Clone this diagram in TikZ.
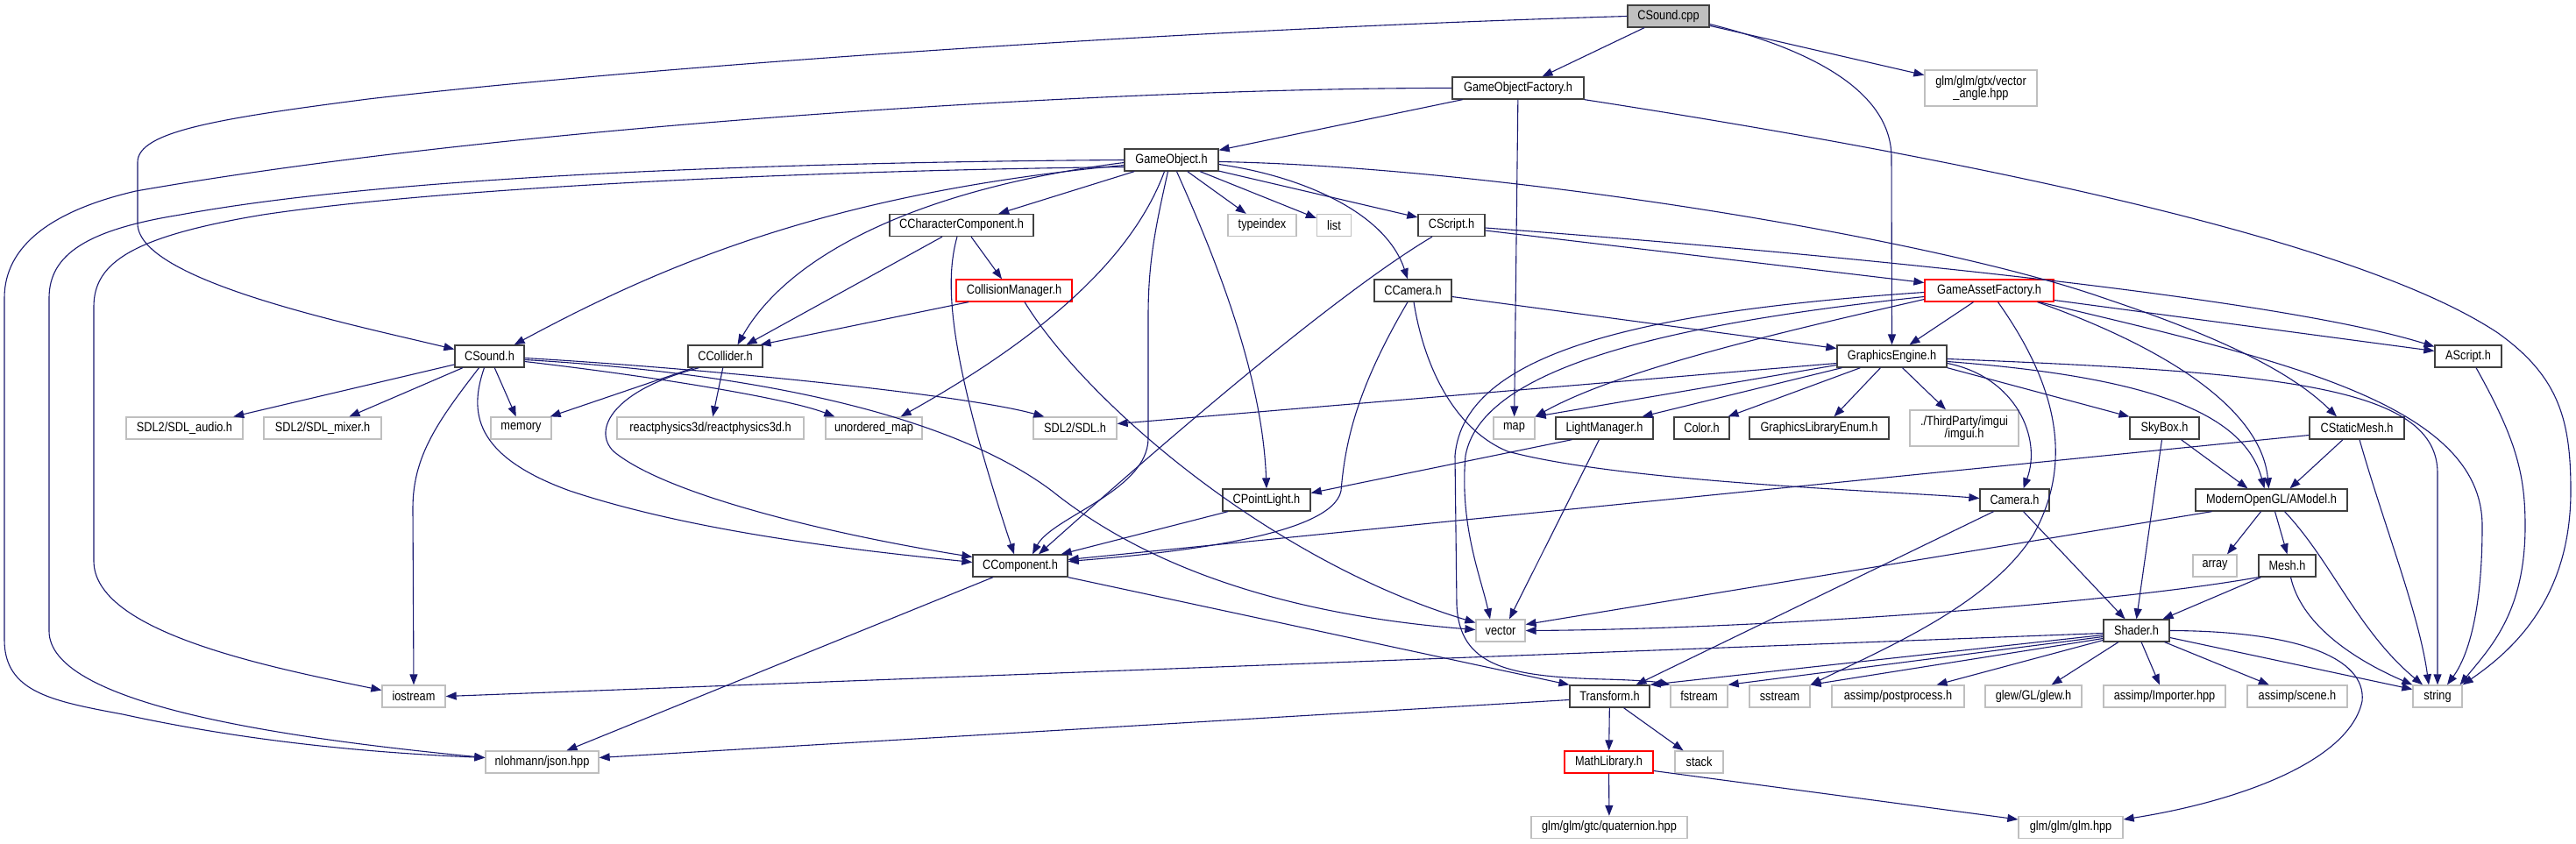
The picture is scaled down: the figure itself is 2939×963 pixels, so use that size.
\documentclass[tikz,border=0pt]{standalone}
\usepackage{fontspec}
\newfontfamily\depfamily{Liberation Sans}[FakeStretch=0.85]
\usepackage{tikz}
\usetikzlibrary{arrows.meta}
\definecolor{DepBlue}{HTML}{191970}
\definecolor{DepBorder}{HTML}{404040}
\definecolor{DepGray}{HTML}{BFBFBF}
\definecolor{DepRed}{HTML}{FF0000}
\newcommand{\depfont}{\depfamily\fontsize{15}{14}\selectfont}
\tikzset{
  depedge/.style={-{Triangle[length=12pt,width=9pt]},line width=1.1pt,draw=DepBlue},
  hfile/.style={draw=DepBorder,line width=1.3pt,fill=white,inner sep=0pt,minimum height=25pt,align=center,font=\depfont},
  sysfile/.style={hfile,draw=DepGray},
  badfile/.style={hfile,draw=DepRed},
  rootfile/.style={hfile,fill=DepGray}
}

\begin{document}
\begin{tikzpicture}[x=1pt,y=-1pt]
  \useasboundingbox[fill=white] (0,0) rectangle (2939,963);

  % files, row by row
  \node[rootfile,minimum width=93pt] (cpp) at (1903.5,18.5) {CSound.cpp};
  \node[hfile,minimum width=150pt] (gof) at (1732,100.5) {GameObjectFactory.h};
  \node[sysfile,minimum width=128pt,minimum height=41pt] (vang) at (2260,100.5) {glm/glm/gtx/vector\\\_angle.hpp};
  \node[hfile,minimum width=107pt] (go) at (1336.5,182.5) {GameObject.h};
  \node[hfile,minimum width=164pt] (cchar) at (1097,257) {CCharacterComponent.h};
  \node[sysfile,minimum width=78pt] (typeindex) at (1440,257) {typeindex};
  \node[sysfile,minimum width=39pt] (list) at (1522,257) {list};
  \node[hfile,minimum width=76pt] (cscript) at (1656,257) {CScript.h};
  \node[badfile,minimum width=132pt] (colmgr) at (1157,331.5) {CollisionManager.h};
  \node[hfile,minimum width=88pt] (ccamera) at (1612,331.5) {CCamera.h};
  \node[badfile,minimum width=147pt] (gaf) at (2269.5,331.5) {GameAssetFactory.h};
  \node[hfile,minimum width=79pt] (csoundh) at (558.5,406.5) {CSound.h};
  \node[hfile,minimum width=85pt] (ccollider) at (827.5,406.5) {CCollider.h};
  \node[hfile,minimum width=125pt] (gfx) at (2158.5,406.5) {GraphicsEngine.h};
  \node[hfile,minimum width=76pt] (ascript) at (2816,406.5) {AScript.h};
  \node[sysfile,minimum width=133pt] (sdlaudio) at (210.5,488.5) {SDL2/SDL\_audio.h};
  \node[sysfile,minimum width=134pt] (sdlmixer) at (368,488.5) {SDL2/SDL\_mixer.h};
  \node[sysfile,minimum width=69pt] (memory) at (594.5,488.5) {memory};
  \node[sysfile,minimum width=213pt] (react) at (810.5,488.5) {reactphysics3d/reactphysics3d.h};
  \node[sysfile,minimum width=110pt] (umap) at (997,488.5) {unordered\_map};
  \node[sysfile,minimum width=95pt] (sdl) at (1226.5,488.5) {SDL2/SDL.h};
  \node[sysfile,minimum width=47pt] (map) at (1727.5,488.5) {map};
  \node[hfile,minimum width=111pt] (lightmgr) at (1830.5,488.5) {LightManager.h};
  \node[hfile,minimum width=63pt] (color) at (1941.5,488.5) {Color.h};
  \node[hfile,minimum width=159pt] (gle) at (2075.5,488.5) {GraphicsLibraryEnum.h};
  \node[sysfile,minimum width=124pt,minimum height=41pt] (imgui) at (2241,488.5) {./ThirdParty/imgui\\/imgui.h};
  \node[hfile,minimum width=79pt] (skybox) at (2469.5,488.5) {SkyBox.h};
  \node[hfile,minimum width=108pt] (cstatic) at (2689,488.5) {CStaticMesh.h};
  \node[hfile,minimum width=100pt] (cpointlight) at (1445,570.5) {CPointLight.h};
  \node[hfile,minimum width=79pt] (camera) at (2298.5,570.5) {Camera.h};
  \node[hfile,minimum width=173pt] (amodel) at (2591.5,570.5) {ModernOpenGL/AModel.h};
  \node[hfile,minimum width=108pt] (ccomp) at (1164,645.5) {CComponent.h};
  \node[sysfile,minimum width=50pt] (array) at (2527,645.5) {array};
  \node[hfile,minimum width=65pt] (mesh) at (2609.5,645.5) {Mesh.h};
  \node[sysfile,minimum width=56pt] (vector) at (1712,719.5) {vector};
  \node[hfile,minimum width=75pt] (shader) at (2437.5,719.5) {Shader.h};
  \node[sysfile,minimum width=72pt] (iostream) at (472,794.5) {iostream};
  \node[hfile,minimum width=91pt] (transform) at (1836.5,794.5) {Transform.h};
  \node[sysfile,minimum width=65pt] (fstream) at (1938.5,794.5) {fstream};
  \node[sysfile,minimum width=69pt] (sstream) at (2030.5,794.5) {sstream};
  \node[sysfile,minimum width=151pt] (postproc) at (2165.5,794.5) {assimp/postprocess.h};
  \node[sysfile,minimum width=110pt] (glew) at (2320,794.5) {glew/GL/glew.h};
  \node[sysfile,minimum width=139pt] (importer) at (2469.5,794.5) {assimp/Importer.hpp};
  \node[sysfile,minimum width=114pt] (scene) at (2621,794.5) {assimp/scene.h};
  \node[sysfile,minimum width=56pt] (string) at (2781,794.5) {string};
  \node[sysfile,minimum width=129pt] (json) at (618.5,869.5) {nlohmann/json.hpp};
  \node[badfile,minimum width=101pt] (mathlib) at (1835.5,869.5) {MathLibrary.h};
  \node[sysfile,minimum width=55pt] (stack) at (1938.5,869.5) {stack};
  \node[sysfile,minimum width=178pt] (quat) at (1836,944) {glm/glm/gtc/quaternion.hpp};
  \node[sysfile,minimum width=119pt] (glmhpp) at (2362.5,944) {glm/glm/glm.hpp};

  % straight includes
  \foreach \a/\b in {cpp/gof,cpp/vang,gof/go,gof/map,go/cchar,go/typeindex,go/list,go/cscript,
      csoundh/sdlaudio,csoundh/sdlmixer,csoundh/memory,ccollider/react,
      shader/glew,shader/importer,shader/scene,transform/mathlib,mathlib/quat}
    \draw[depedge] (\a) -- (\b);

  % CSound.cpp
  \draw[depedge] (cpp.west) .. controls (1300,35) and (700,80) .. (420,113) .. controls (250,135) and (157,150) .. (157,185) -- (157,255) .. controls (157,320) and (400,370) .. ([yshift=8pt]csoundh.west);
  \draw[depedge] ([yshift=-9pt]cpp.east) .. controls (2080,60) and (2158,110) .. (2158,180) -- (gfx.north);

  % GameObjectFactory.h
  \draw[depedge] (gof.south east) .. controls (2300,190) and (2700,280) .. (2850,380) .. controls (2920,430) and (2933,480) .. (2933,560) .. controls (2933,680) and (2870,740) .. (string.north east);
  \draw[depedge] (gof.west) .. controls (1300,100) and (600,140) .. (155,218) .. controls (60,240) and (5,280) .. (5,340) -- (5,730) .. controls (5,790) and (60,800) .. (140,815) .. controls (300,850) and (450,860) .. ([yshift=5pt]json.west);

  % GameObject.h
  \draw[depedge] ([yshift=-6pt]go.west) .. controls (950,220) and (760,300) .. ([xshift=-12pt]csoundh.north east);
  \draw[depedge] ([yshift=-3pt]go.west) .. controls (1050,215) and (900,290) .. ([xshift=14pt]ccollider.north);
  \draw[depedge] (go.west) .. controls (900,185) and (450,200) .. (206,245) .. controls (100,262) and (56,290) .. (56,340) -- (56,720) .. controls (56,800) and (300,840) .. ([yshift=5pt]json.west);
  \draw[depedge] ([yshift=-8pt]go.west) .. controls (900,195) and (500,215) .. (300,245) .. controls (150,270) and (107,300) .. (107,350) -- (107,640) .. controls (107,720) and (300,760) .. ([yshift=7pt]iostream.west);
  \draw[depedge] ([xshift=-8pt]go.south) .. controls (1290,300) and (1180,390) .. ([xshift=-25pt]umap.north east);
  \draw[depedge] ([xshift=-4pt]go.south) .. controls (1318,260) and (1310,300) .. (1310,360) -- (1310,500) .. controls (1310,560) and (1200,590) .. ([xshift=14pt]ccomp.north);
  \draw[depedge] ([xshift=6pt]go.south) .. controls (1380,280) and (1440,420) .. (cpointlight.north);
  \draw[depedge] ([yshift=-5pt]go.east) .. controls (1480,200) and (1580,240) .. ([xshift=-6pt]ccamera.north);
  \draw[depedge] ([yshift=-2pt]go.east) .. controls (1700,190) and (2200,270) .. (2400,340) .. controls (2550,390) and (2620,430) .. ([xshift=-23pt]cstatic.north);

  % CSound.h
  \draw[depedge] ([xshift=-12pt]csoundh.south) .. controls (500,480) and (471,520) .. (471,580) -- (iostream.north);
  \draw[depedge] ([xshift=-6pt]csoundh.south) .. controls (535,470) and (540,520) .. (650,560) .. controls (800,610) and (1000,630) .. ([yshift=4pt]ccomp.west);
  \draw[depedge] ([yshift=-6pt]csoundh.east) .. controls (750,430) and (900,455) .. ([xshift=11pt]umap.north west);
  \draw[depedge] ([yshift=-2pt]csoundh.east) .. controls (800,420) and (1100,450) .. ([xshift=13pt]sdl.north west);
  \draw[depedge] ([yshift=-4pt]csoundh.east) .. controls (850,425) and (1080,470) .. (1200,560) .. controls (1300,640) and (1450,700) .. ([yshift=1pt]vector.west);

  % CCharacterComponent.h
  \draw[depedge] ([xshift=-22pt]cchar.south) -- ([xshift=24pt]ccollider.north);
  \draw[depedge] ([xshift=11pt]cchar.south) -- ([xshift=-14pt]colmgr.north);
  \draw[depedge] ([xshift=-5pt]cchar.south) .. controls (1078,320) and (1080,400) .. ([xshift=-7pt]ccomp.north);

  % CollisionManager.h
  \draw[depedge] ([xshift=-52pt]colmgr.south) -- ([xshift=40pt]ccollider.north);
  \draw[depedge] ([xshift=12pt]colmgr.south) .. controls (1240,460) and (1450,640) .. ([yshift=9pt]vector.west);

  % CCollider.h
  \draw[depedge] ([xshift=-36pt]ccollider.south) -- ([xshift=-2pt]memory.north east);
  \draw[depedge] ([xshift=-30pt]ccollider.south) .. controls (700,445) and (675,490) .. (700,515) .. controls (760,565) and (950,610) .. ([yshift=10pt]ccomp.west);

  % CScript.h
  \draw[depedge] ([xshift=-22pt]cscript.south) .. controls (1550,320) and (1400,440) .. ([xshift=21pt]ccomp.north);
  \draw[depedge] ([yshift=-6pt]cscript.east) -- ([yshift=9pt]gaf.west);
  \draw[depedge] ([yshift=-3pt]cscript.east) .. controls (2100,290) and (2600,340) .. ([yshift=11pt]ascript.west);

  % CCamera.h
  \draw[depedge] ([yshift=-7pt]ccamera.east) -- ([yshift=9pt]gfx.west);
  \draw[depedge] ([xshift=-6pt]ccamera.south) .. controls (1550,440) and (1535,500) .. (1530,560) .. controls (1520,610) and (1350,630) .. ([yshift=5pt]ccomp.east);
  \draw[depedge] ([xshift=1pt]ccamera.south) .. controls (1625,420) and (1660,490) .. (1720,515) .. controls (1850,550) and (2150,560) .. ([yshift=2pt]camera.west);

  % GameAssetFactory.h
  \draw[depedge] ([xshift=-18pt]gaf.south) -- ([xshift=20pt]gfx.north);
  \draw[depedge] ([yshift=-10pt]gaf.west) .. controls (2050,375) and (1850,420) .. (map.north east);
  \draw[depedge] ([yshift=-7pt]gaf.west) .. controls (1900,370) and (1690,420) .. (1672,520) .. controls (1665,600) and (1690,660) .. ([xshift=-12pt]vector.north);
  \draw[depedge] ([yshift=-2pt]gaf.west) .. controls (1880,355) and (1670,400) .. (1660,520) -- (1662,690) .. controls (1665,760) and (1720,772) .. (1830,775) .. controls (1870,776) and (1890,778) .. (fstream.north west);
  \draw[depedge] ([yshift=-11pt]gaf.east) -- ([yshift=6pt]ascript.west);
  \draw[depedge] ([xshift=55pt]gaf.south) .. controls (2480,400) and (2580,470) .. ([xshift=-3pt]amodel.north);
  \draw[depedge] ([xshift=57pt]gaf.south) .. controls (2600,410) and (2832,460) .. (2832,600) .. controls (2832,700) and (2815,750) .. ([xshift=11pt]string.north);
  \draw[depedge] ([xshift=10pt]gaf.south) .. controls (2340,430) and (2370,520) .. (2320,610) .. controls (2270,690) and (2150,740) .. (sstream.north east);

  % GraphicsEngine.h
  \draw[depedge] ([yshift=-8pt]gfx.west) -- ([yshift=5pt]sdl.east);
  \draw[depedge] ([yshift=-10pt]gfx.west) -- (map.north east);
  \draw[depedge] ([xshift=-57pt]gfx.south) -- ([xshift=43pt]lightmgr.north);
  \draw[depedge] ([xshift=-36pt]gfx.south) -- ([xshift=30pt]color.north);
  \draw[depedge] ([xshift=-13pt]gfx.south) -- ([xshift=17pt]gle.north);
  \draw[depedge] ([xshift=12pt]gfx.south) -- ([xshift=-21pt]imgui.north);
  \draw[depedge] (gfx.south east) -- (skybox.north west);
  \draw[depedge] ([yshift=-8pt]gfx.east) .. controls (2300,430) and (2330,500) .. ([xshift=10pt]camera.north);
  \draw[depedge] ([yshift=-6pt]gfx.east) .. controls (2450,430) and (2560,470) .. ([xshift=-8pt]amodel.north);
  \draw[depedge] ([yshift=-3pt]gfx.east) .. controls (2600,425) and (2781,440) .. (2781,540) -- (string.north);

  % Camera.h, SkyBox.h, CStaticMesh.h
  \draw[depedge] ([xshift=10pt]camera.south) -- ([xshift=-13pt]shader.north);
  \draw[depedge] ([xshift=-24pt]camera.south) -- ([xshift=30pt]transform.north);
  \draw[depedge] ([xshift=19pt]skybox.south) -- ([xshift=-27pt]amodel.north);
  \draw[depedge] ([xshift=-3pt]skybox.south) -- (shader.north);
  \draw[depedge] ([yshift=-8pt]cstatic.west) -- ([yshift=7pt]ccomp.east);
  \draw[depedge] ([xshift=-16pt]cstatic.south) -- ([xshift=21pt]amodel.north);
  \draw[depedge] ([xshift=3pt]cstatic.south) .. controls (2720,600) and (2760,700) .. ([xshift=-10pt]string.north);

  % ModernOpenGL/AModel.h, Mesh.h, AScript.h
  \draw[depedge] ([xshift=-12pt]amodel.south) -- ([xshift=14pt]array.north);
  \draw[depedge] ([xshift=4pt]amodel.south) -- (mesh.north);
  \draw[depedge] ([xshift=-68pt]amodel.south) -- ([yshift=7pt]vector.east);
  \draw[depedge] ([xshift=15pt]amodel.south) .. controls (2660,640) and (2690,720) .. ([xshift=-17pt]string.north);
  \draw[depedge] ([xshift=-30pt]mesh.south) -- ([xshift=30pt]shader.north);
  \draw[depedge] (mesh.south west) .. controls (2400,690) and (2000,718) .. (vector.east);
  \draw[depedge] ([xshift=4pt]mesh.south) .. controls (2625,710) and (2680,750) .. (string.north west);
  \draw[depedge] ([xshift=9pt]ascript.south) .. controls (2870,500) and (2881,540) .. (2881,600) .. controls (2881,700) and (2840,740) .. ([xshift=-3pt]string.north east);

  % LightManager.h, CPointLight.h, CComponent.h
  \draw[depedge] ([xshift=-37pt]lightmgr.south) -- ([yshift=8pt]cpointlight.east);
  \draw[depedge] ([xshift=-6pt]lightmgr.south) -- ([xshift=10pt]vector.north);
  \draw[depedge] ([xshift=-44pt]cpointlight.south) -- ([xshift=-8pt]ccomp.north east);
  \draw[depedge] ([xshift=-31pt]ccomp.south) -- ([xshift=28pt]json.north);
  \draw[depedge] (ccomp.south east) -- (transform.north west);

  % Shader.h
  \draw[depedge] ([yshift=-3pt]shader.west) -- (iostream.east);
  \draw[depedge] ([yshift=-5pt]shader.west) -- (transform.north east);
  \draw[depedge] ([yshift=-7pt]shader.west) -- (fstream.north east);
  \draw[depedge] ([yshift=-9pt]shader.west) -- (sstream.north east);
  \draw[depedge] ([yshift=-11pt]shader.west) -- ([xshift=44pt]postproc.north);
  \draw[depedge] ([yshift=-8pt]shader.east) -- ([yshift=8pt]string.west);
  \draw[depedge] (shader.east) .. controls (2620,720) and (2700,750) .. (2695,800) .. controls (2680,870) and (2550,915) .. ([yshift=9pt]glmhpp.east);

  % Transform.h, MathLibrary.h
  \draw[depedge] ([yshift=-4pt]transform.west) -- ([yshift=5pt]json.east);
  \draw[depedge] ([xshift=16pt]transform.south) -- ([xshift=-18pt]stack.north);
  \draw[depedge] ([yshift=-10pt]mathlib.east) -- ([yshift=9pt]glmhpp.west);
\end{tikzpicture}
\end{document}
